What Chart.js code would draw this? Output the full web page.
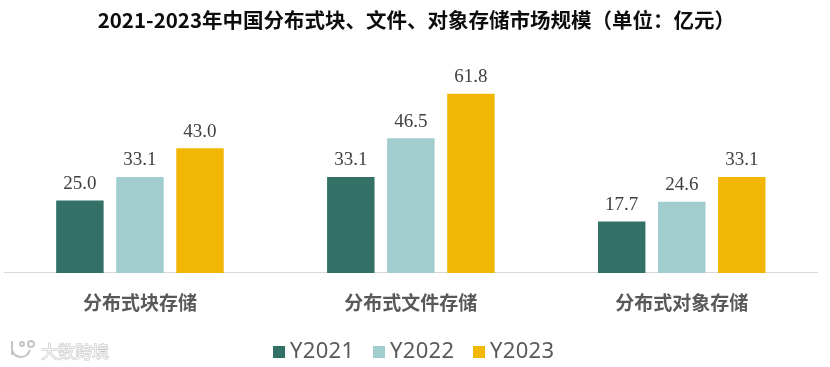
<!DOCTYPE html>
<html>
<head>
<meta charset="utf-8">
<script src="https://cdn.jsdelivr.net/npm/chart.js@4"></script>
<style>
  html, body { margin: 0; padding: 0; background: #fff; }
  canvas { display: block; }
</style>
</head>
<body>
<canvas id="myChart" width="830" height="367"></canvas>
<script>
const titleText = '2021-2023年中国分布式块、文件、对象存储市场规模（单位：亿元）';
const watermarkText = '大数跨境';
const categories = ['分布式块存储', '分布式文件存储', '分布式对象存储'];
const seriesNames = ['Y2021', 'Y2022', 'Y2023'];
const y2021 = [25.0, 33.1, 17.7];
const y2022 = [33.1, 46.5, 24.6];
const y2023 = [43.0, 61.8, 33.1];

const cjk = '"Noto Sans CJK SC", "Noto Sans", sans-serif';

// title sits a little right of the page centre
const titleShift = {
  id: 'titleShift',
  afterLayout(chart) {
    chart.titleBlock.left += 11;
  }
};

// value labels above the bars
const barLabels = {
  id: 'barLabels',
  afterDatasetsDraw(chart) {
    const ctx = chart.ctx;
    ctx.save();
    ctx.font = '19px "Liberation Serif", serif';
    ctx.fillStyle = '#404040';
    ctx.textAlign = 'center';
    ctx.textBaseline = 'bottom';
    chart.data.datasets.forEach((dataset, i) => {
      chart.getDatasetMeta(i).data.forEach((bar, j) => {
        ctx.fillText(dataset.data[j].toFixed(1), bar.x, bar.y - 7);
      });
    });
    ctx.restore();
  }
};

// legend by hand, the built-in one leaves too wide a gap after the box
const legendRow = {
  id: 'legendRow',
  afterDraw(chart) {
    const ctx = chart.ctx;
    ctx.save();
    ctx.font = '22px "Noto Sans", sans-serif';
    ctx.letterSpacing = '0.3px';
    ctx.textBaseline = 'middle';
    let x = 273;
    chart.data.datasets.forEach((dataset) => {
      ctx.fillStyle = dataset.backgroundColor;
      ctx.fillRect(x, 346, 12, 12);
      ctx.fillStyle = '#595959';
      ctx.fillText(dataset.label, x + 17, 352);
      x += 100;
    });
    ctx.restore();
  }
};

// faint watermark, bottom left
const watermark = {
  id: 'watermark',
  afterDraw(chart) {
    const ctx = chart.ctx;
    ctx.save();
    ctx.font = '17px ' + cjk;
    ctx.textBaseline = 'middle';
    ctx.lineWidth = 1;
    ctx.strokeStyle = '#c4c4c4';
    ctx.fillStyle = '#f4f4f4';
    ctx.strokeText(watermarkText, 41, 352);
    ctx.fillText(watermarkText, 41, 352);
    ctx.lineWidth = 2;
    ctx.beginPath();
    ctx.arc(21, 348, 9, 0.2, Math.PI - 0.4);
    ctx.moveTo(12, 341);
    ctx.lineTo(12, 355);
    ctx.moveTo(24, 344);
    ctx.arc(22, 344, 2, 0, Math.PI * 2);
    ctx.moveTo(34, 344);
    ctx.arc(31, 344, 3, 0, Math.PI * 2);
    ctx.stroke();
    ctx.restore();
  }
};

const chart = new Chart(document.getElementById('myChart'), {
  type: 'bar',
  data: {
    labels: categories,
    datasets: [
      { label: seriesNames[0], data: y2021, backgroundColor: '#337167' },
      { label: seriesNames[1], data: y2022, backgroundColor: '#a1cdce' },
      { label: seriesNames[2], data: y2023, backgroundColor: '#f2b705' }
    ]
  },
  options: {
    responsive: false,
    animation: false,
    categoryPercentage: 0.665,
    barPercentage: 0.79,
    layout: { padding: { left: 4.5, right: 12.8, top: 8, bottom: 34.1 } },
    plugins: {
      title: {
        display: true,
        text: titleText,
        color: '#0d0d0d',
        font: { family: cjk, size: 20.5, weight: 'bold' },
        padding: { top: 0, bottom: 37.5 }
      },
      legend: { display: false },
      tooltip: { enabled: false }
    },
    scales: {
      x: {
        grid: { display: false, drawTicks: false },
        border: { color: '#d9d9d9', width: 1 },
        ticks: {
          color: '#595959',
          padding: 18.6,
          font: { family: cjk, size: 19, weight: 'bold' }
        }
      },
      y: { display: false, min: 0, max: 70 }
    }
  },
  plugins: [titleShift, barLabels, legendRow, watermark]
});
</script>
</body>
</html>
